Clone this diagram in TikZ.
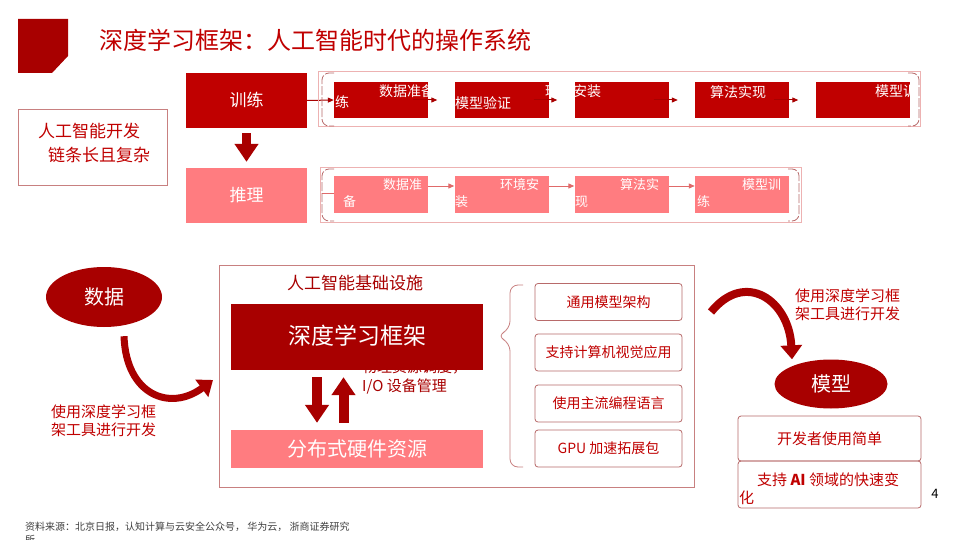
\documentclass[tikz,border=0pt]{standalone}
\usepackage{fontspec}
\setmainfont{Noto Sans CJK SC}
\usetikzlibrary{arrows.meta, positioning, shapes.geometric, calc}
\definecolor{cdark}{HTML}{A80000}
\definecolor{cred}{HTML}{C00000}
\definecolor{cpink}{HTML}{FF7C80}
\definecolor{cline}{HTML}{C88080}
\definecolor{cframe}{HTML}{EDB2B2}
\definecolor{cbrack}{HTML}{B86A6A}
\definecolor{cflow}{HTML}{E06A6A}
\definecolor{cgrey}{HTML}{404040}
\newcommand{\fsz}[2]{\fontsize{#1}{#2}\selectfont}
\tikzset{
  stage/.style={fill=#1, minimum width=94, minimum height=36, inner sep=0},
  stage/.default=cred,
  steptext/.style={text=white, anchor=west, inner sep=0, font=\fsz{14}{14}},
  lowtext/.style={text=white, anchor=west, inner sep=0, font=\fsz{13}{13}},
  flow/.style={-{Triangle[length=6pt, width=5pt]}, draw=#1, line width=1pt},
  bracket/.style={draw=cbrack, line width=0.8pt, rounded corners=7pt, dash pattern=on 9pt off 2pt},
  featbox/.style={draw=cbrack, line width=0.8pt, rounded corners=3pt, minimum width=147, minimum height=37, text=cred, font=\fsz{14}{14}},
  blockarrow/.style={draw=cdark, line width=#1, -{Triangle[length=18pt, width=23pt]}},
  blockarrow/.default=10pt,
  swoosh/.style={draw=cdark, line width=#1, -{Triangle[length=14pt, width=21pt]}},
  note/.style={text=cred, align=left, anchor=west, inner sep=0, font=\fsz{15}{18}},
}

\begin{document}
\begin{tikzpicture}[x=1pt, y=-1pt]
  \fill[white] (0,0) rectangle (960,540);
  \useasboundingbox (0,0) rectangle (960,540);
  % title
  \fill[cdark] (18,19) -- (68,19) -- (68,56) -- (52,73) -- (18,73) -- cycle;
  \node[anchor=west, inner sep=0, text=cred, font=\fsz{24}{24}] (title) at (99,40) {深度学习框架：人工智能时代的操作系统};
  % training / inference chain
  \node[draw=cline, minimum width=149, minimum height=76] (chain) at (92.5,147) {};
  \node[text=cred, anchor=west, inner sep=0, align=left, font=\fsz{17}{24}] (chaintext) at (38,143) {人工智能开发\\\hspace*{10pt}链条长且复杂};
  \node[stage, minimum width=121, minimum height=55, text=white, font=\fsz{17}{17}] (train) at (246.5,100.5) {\raisebox{3pt}{训练}};
  \node[stage=cpink, minimum width=121, minimum height=55, text=white, font=\fsz{17}{17}] (infer) at (246.5,195.5) {\raisebox{3pt}{推理}};
  \draw[blockarrow=9pt] ([yshift=-5pt]train.south) -- ([yshift=6pt]infer.north);
  \foreach \i/\x in {1/381, 2/501.5, 3/621.5, 4/742, 5/862.5}
    \node[stage] (t\i) at (\x,100) {};
  \foreach \i/\x in {1/381, 2/501.5, 3/621.5, 4/742}
    \node[stage=cpink, minimum height=37] (i\i) at (\x,194.5) {};
  \foreach \t/\x/\y [count=\k] in {练/335/102, 数据准备/379/91, 模型验证/455/103, 环境安装/545/91, 算法实现/710/92, 模型训练/875/91}
    \node[steptext] (ta\k) at (\x,\y) {\t};
  \foreach \t/\x/\y [count=\k] in {备/343/202, 数据准/383/185, 装/455/202, 环境安/500/185, 现/575/202, 算法实/620/185, 练/697/202, 模型训/742/185}
    \node[lowtext] (tb\k) at (\x,\y) {\t};
  \fill[white] (920.5,80) rectangle (940,120);
  \draw[flow=cdark] (train.east) -- (t1.west);
  \foreach \a/\b in {1/2, 2/3, 3/4, 4/5}
    \draw[flow=cdark] ([xshift=-15pt]t\a.east) -- ([xshift=-17pt]t\b.west);
  \foreach \a/\b in {1/2, 2/3, 3/4}
    \draw[flow=cflow] ([yshift=8.5pt]i\a.east) -- ([yshift=8.5pt]i\b.west);
  \draw[cflow, line width=1pt] ([xshift=-12pt, yshift=1.5pt]i1.west) -- ([yshift=1.5pt]i1.west);
  \draw[cframe, line width=1pt] (318,72) rectangle (920,127);
  \draw[bracket] (334,73) -- (322,73) -- (322,126) -- (334,126);
  \draw[bracket] (908,73) -- (919,73) -- (919,126) -- (908,126);
  \draw[cframe, line width=1pt] (320,168) rectangle (801,222);
  \draw[bracket] (334,169) -- (322,169) -- (322,221) -- (334,221);
  \draw[bracket] (788,169) -- (799,169) -- (799,221) -- (788,221);
  % infrastructure
  \node[ellipse, fill=cdark, minimum width=116, minimum height=60, text=white, font=\fsz{20}{20}] (data) at (104,297) {数据};
  \coordinate (dlin) at (213,380);
  \draw[swoosh=7pt] ([xshift=20pt, yshift=-9pt]data.south) .. controls (126,395) and (170,412) .. (dlin);
  \node[note] (devleft) at (51,421) {使用深度学习框\\架工具进行开发};
  \draw[cline, line width=1pt] (219,265) rectangle (694,487);
  \node[text=cdark, font=\fsz{17}{17}] (infratitle) at (355,283) {人工智能基础设施};
  \node[text=cdark, anchor=west, align=left, inner sep=0, font=\fsz{15}{19}] (ionote) at (362,377.5) {物理资源调度，\\I/O 设备管理};
  \node[fill=cdark, minimum width=252, minimum height=66, text=white, font=\fsz{23}{23}] (dl) at (357,337) {\raisebox{5pt}{深度学习框架}};
  \node[fill=cpink, minimum width=252, minimum height=38, text=white, font=\fsz{20}{20}] (hw) at (357,449) {分布式硬件资源};
  \draw[blockarrow] ([xshift=-40pt, yshift=-7pt]dl.south) -- ([xshift=-40pt, yshift=7pt]hw.north);
  \draw[blockarrow] ([xshift=-13.5pt, yshift=7pt]hw.north) -- ([xshift=-13.5pt, yshift=-7pt]dl.south);
  \draw[cline, line width=0.8pt, rounded corners=8pt] (523,285) -- (510,285) -- (510,329) -- (497,336) -- (510,343) -- (510,467) -- (523,467);
  \foreach \t/\y [count=\k] in {通用模型架构/302, 支持计算机视觉应用/352.5, 使用主流编程语言/403.5, GPU 加速拓展包/448.5}
    \node[featbox] (f\k) at (608.5,\y) {\t};
  % model
  \node[ellipse, fill=cdark, minimum width=113, minimum height=49, text=white, font=\fsz{20}{20}] (model) at (831,384) {模型};
  \coordinate (mdout) at (711,312);
  \draw[swoosh=8pt] (mdout) .. controls (745,270) and (789,300) .. ([xshift=-39pt]model.north);
  \node[note] (devright) at (795,305) {使用深度学习框\\架工具进行开发};
  \node[featbox, minimum width=183, minimum height=45, font=\fsz{15}{15}] (easy) at (829.5,438.5) {开发者使用简单};
  \node[featbox, minimum width=183, minimum height=47] (fast) at (829.5,484.5) {};
  \node[note, font=\fsz{15}{18}] (fasttext) at (739,489) {\hspace*{18pt}支持 \textbf{AI} 领域的快速变\\化};
  \node[font=\fsz{13}{13}] (pgno) at (935,494) {4};
  % source
  \node[anchor=north west, align=left, inner sep=0, text=cgrey, font=\fsz{10}{13}] (src) at (25,522) {资料来源：北京日报，认知计算与云安全公众号，\ 华为云，\ 浙商证券研究\\所};
\end{tikzpicture}
\end{document}
